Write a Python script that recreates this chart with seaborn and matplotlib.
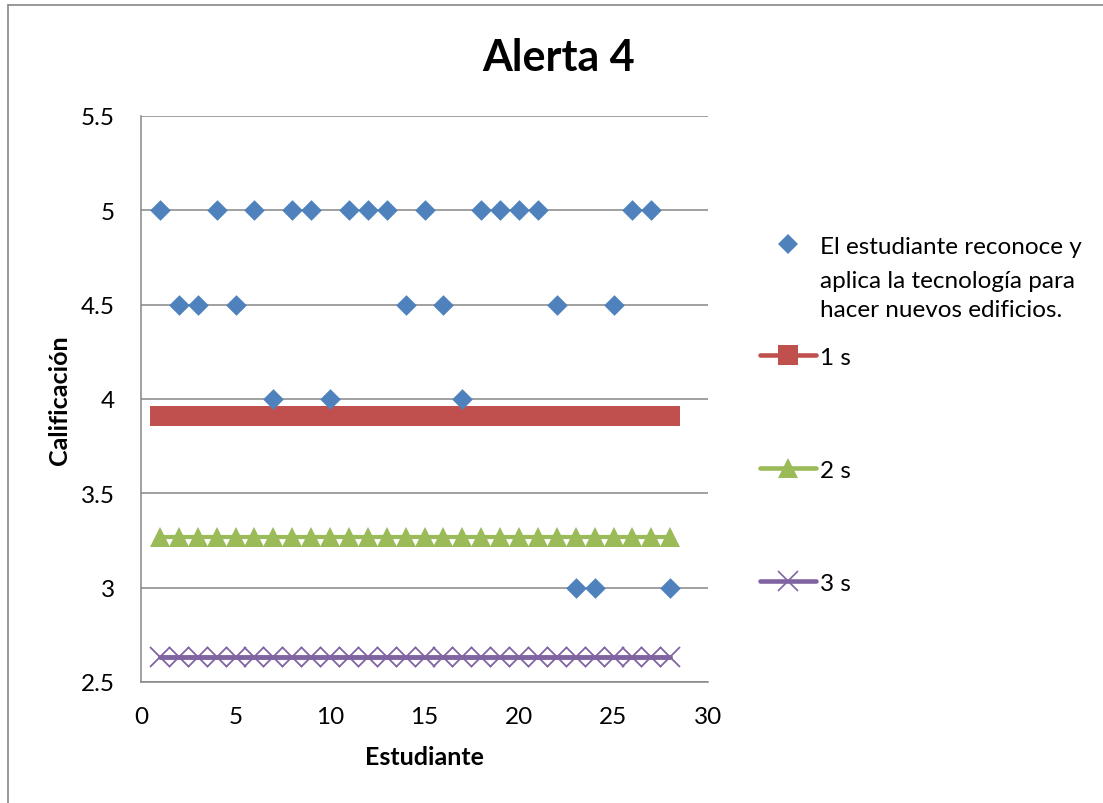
import matplotlib
matplotlib.use("Agg")
import matplotlib.pyplot as plt
import seaborn as sns
import pandas as pd
from matplotlib.lines import Line2D

# ---- data ----
students = list(range(1, 29))
scores = [5, 4.5, 4.5, 5, 4.5, 5, 4, 5, 5, 4, 5, 5, 5, 4.5, 5, 4.5, 4, 5, 5, 5,
          5, 4.5, 3, 3, 4.5, 5, 5, 3]
level_1s = 3.91
level_2s = 3.27
level_3s = 2.63
series_label_lines = ["El estudiante reconoce y",
                      "aplica la tecnología para\nhacer nuevos edificios."]
line_labels = ["1 s", "2 s", "3 s"]
y_ticks = [2.5, 3, 3.5, 4, 4.5, 5, 5.5]
y_tick_labels = ["2.5", "3", "3.5", "4", "4.5", "5", "5.5"]
x_ticks = [0, 5, 10, 15, 20, 25, 30]

df = pd.DataFrame({
    "Estudiante": students,
    "score": scores,
    "s1": [level_1s] * len(students),
    "s2": [level_2s] * len(students),
    "s3": [level_3s] * len(students),
})

sns.set_theme(style="white")
plt.rcParams["font.family"] = ["Lato", "DejaVu Sans"]
plt.rcParams["text.color"] = "black"
plt.rcParams["axes.labelcolor"] = "black"

BLUE = "#4F81BD"
RED = "#C0504D"
GREEN = "#9BBB59"
PURPLE = "#8064A2"
GRID = "#868686"
FS = 17.5

fig = plt.figure(figsize=(11.03, 8.04), dpi=100)
ax = fig.add_axes([141 / 1103, 1 - 683 / 804, 567 / 1103, 566 / 804])

sns.lineplot(data=df, x="Estudiante", y="s1", ax=ax, color=RED, linewidth=3,
             marker="s", markersize=14.5, markeredgewidth=0, zorder=3)
sns.lineplot(data=df, x="Estudiante", y="s2", ax=ax, color=GREEN, linewidth=3,
             marker="^", markersize=14.5, markeredgewidth=0, zorder=3)
sns.lineplot(data=df, x="Estudiante", y="s3", ax=ax, color=PURPLE, linewidth=3.5,
             marker="x", markersize=14.5, markeredgewidth=1.3,
             markeredgecolor=PURPLE, zorder=3)
sns.scatterplot(data=df, x="Estudiante", y="score", ax=ax, color=BLUE,
                marker="D", s=10.5 ** 2, linewidth=0, zorder=4)

ax.set_xlim(0, 30)
ax.set_ylim(2.5, 5.5)
ax.set_xticks(x_ticks)
ax.set_yticks(y_ticks)
ax.set_yticklabels(y_tick_labels)
ax.tick_params(axis="both", length=0, labelsize=FS, colors="black")
ax.tick_params(axis="y", pad=19)
ax.tick_params(axis="x", pad=17)
ax.yaxis.grid(True, color=GRID, linewidth=1.1)
ax.xaxis.grid(False)
ax.set_axisbelow(True)
for side in ["top", "right"]:
    ax.spines[side].set_visible(False)
for side in ["left", "bottom"]:
    ax.spines[side].set_color(GRID)
    ax.spines[side].set_linewidth(1.1)

ax.set_xlabel("Estudiante", fontsize=18, fontweight="bold", labelpad=13)
ax.set_ylabel("Calificación", fontsize=18, fontweight="bold", labelpad=7)

fig.text(559 / 1103, 1 - 58 / 804, "Alerta 4", fontsize=31, fontweight="bold",
         ha="center", va="center", color="black")

# legend entries (Excel style, individually placed)
diamond = Line2D([], [], linestyle="none", marker="D", markersize=10.5,
                 color=BLUE, markeredgewidth=0)
blank = Line2D([], [], linestyle="none", marker=None)
line_handles = [
    Line2D([], [], color=RED, linewidth=3.3, marker="s", markersize=14.5,
           markeredgewidth=0, solid_capstyle="round"),
    Line2D([], [], color=GREEN, linewidth=3.3, marker="^", markersize=14.5,
           markeredgewidth=0, solid_capstyle="round"),
    Line2D([], [], color=PURPLE, linewidth=3.3, marker="x", markersize=14.5,
           markeredgewidth=1.2, solid_capstyle="round"),
]
entries = [(diamond, series_label_lines[0], 247),
           (blank, series_label_lines[1], 296)]
entries += list(zip(line_handles, line_labels, [358, 471, 584]))
for h, lab, cy in entries:
    leg = fig.legend([h], [lab], loc="center left",
                     bbox_to_anchor=(760 / 1103, 1 - cy / 804),
                     frameon=False, fontsize=FS, handlelength=2.3,
                     handletextpad=0.17, borderpad=0, borderaxespad=0)
    for t in leg.get_texts():
        t.set_linespacing(1.45)
        t.set_color("black")

# figure border (left and top edges visible)
fig.add_artist(Line2D([8 / 1103, 8 / 1103], [0, 1 - 6 / 804], color=GRID,
                      linewidth=1.2, transform=fig.transFigure))
fig.add_artist(Line2D([8 / 1103, 1], [1 - 6 / 804, 1 - 6 / 804], color=GRID,
                      linewidth=1.2, transform=fig.transFigure))

fig.savefig("out.png", dpi=100)
